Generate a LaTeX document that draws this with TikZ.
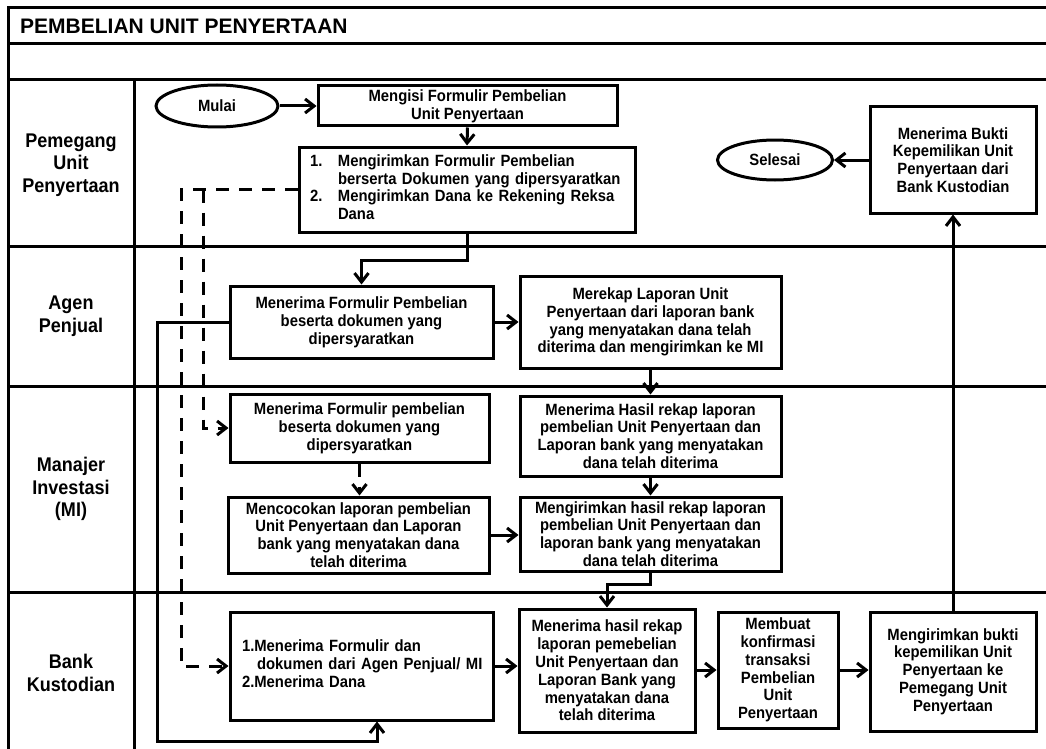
\documentclass[tikz,border=0pt]{standalone}
\usepackage{fontspec}
\setmainfont{Liberation Sans}
\newfontfamily\cond[FakeStretch=0.91]{Liberation Sans}
\usetikzlibrary{arrows.meta,shapes.geometric}
\begin{document}
\begin{tikzpicture}[x=1pt,y=-1pt,
  lane/.style={line width=3pt},
  box/.style={draw,line width=3pt,rectangle,inner sep=0pt,align=center,
    font=\cond\bfseries\fontsize{16.3}{17.8}\selectfont},
  oval/.style={draw,line width=3pt,ellipse,inner sep=0pt,
    font=\cond\bfseries\fontsize{16.3}{17.8}\selectfont},
  lbl/.style={align=center,inner sep=0pt,font=\cond\bfseries\fontsize{19.8}{22.5}\selectfont},
  arr/.style={line width=3pt,-{Straight Barb[length=9pt,width=14pt]}},
  darr/.style={arr,dash pattern=on 13pt off 10pt},
]
\useasboundingbox (0,0) rectangle (1046,749);
\begin{scope}
\clip (0,0) rectangle (1046,749);
% frame and lanes
\draw[lane] (1060,8) -- (8,8) -- (8,760);
\foreach \yy in {44,80,246,386,592}{\draw[lane] (8,\yy) -- (1060,\yy);}
\draw[lane] (134,80) -- (134,760);
\node[anchor=west,inner sep=0pt,font=\bfseries\fontsize{21}{24}\selectfont] (title) at (20,26) {PEMBELIAN UNIT PENYERTAAN};
% lane labels
\node[lbl] (l1) at (71,165) {Pemegang\\Unit\\Penyertaan};
\node[lbl] (l2) at (71,316) {Agen\\Penjual};
\node[lbl] (l3) at (71,489) {Manajer\\Investasi\\(MI)};
\node[lbl] (l4) at (71,673) {Bank\\Kustodian};
% nodes
\node[oval,minimum width=122pt,minimum height=42pt] (mulai) at (217,106) {Mulai};
\node[box,minimum width=299pt,minimum height=40pt] (b1) at (467.5,106) {Mengisi Formulir Pembelian\\Unit Penyertaan};
\node[box,minimum width=336pt,minimum height=85pt,text width=314pt,align=left] (b2) at (467,189.5)
  {\begin{tabular}{@{}l@{}l@{}}\makebox[28pt][l]{1.} & Mengirimkan Formulir Pembelian\\ & berserta Dokumen yang dipersyaratkan\\ \makebox[28pt][l]{2.} & Mengirimkan Dana ke Rekening Reksa\\ & Dana\end{tabular}};
\node[oval,minimum width=115pt,minimum height=40pt] (selesai) at (775,160) {Selesai};
\node[box,minimum width=166pt,minimum height=106pt] (bukti) at (953,160) {Menerima Bukti\\Kepemilikan Unit\\Penyertaan dari\\Bank Kustodian};
\node[box,minimum width=263pt,minimum height=72pt] (a1) at (361.5,322) {Menerima Formulir Pembelian\\beserta dokumen yang\\dipersyaratkan};
\node[box,minimum width=261pt,minimum height=92pt] (a2) at (650.5,322) {Merekap Laporan Unit\\Penyertaan dari laporan bank\\yang menyatakan dana telah\\diterima dan mengirimkan ke MI};
\node[box,minimum width=259pt,minimum height=68pt] (m1) at (359.5,428) {Menerima Formulir pembelian\\beserta dokumen yang\\dipersyaratkan};
\node[box,minimum width=261pt,minimum height=76pt] (m2) at (358.5,535) {Mencocokan laporan pembelian\\Unit Penyertaan dan Laporan\\bank yang menyatakan dana\\telah diterima};
\node[box,minimum width=261pt,minimum height=80pt] (m3) at (650.5,436) {Menerima Hasil rekap laporan\\pembelian Unit Penyertaan dan\\Laporan bank yang menyatakan\\dana telah diterima};
\node[box,minimum width=261pt,minimum height=74pt] (m4) at (650.5,534) {Mengirimkan hasil rekap laporan\\pembelian Unit Penyertaan dan\\laporan bank yang menyatakan\\dana telah diterima};
\node[box,minimum width=263pt,minimum height=108pt,text width=239pt,align=left] (k1) at (361.5,666)
  {\begin{tabular}{@{}l@{}l@{}}1. & Menerima Formulir dan\\ & \,dokumen dari Agen Penjual/ MI\\ 2. & Menerima Dana\end{tabular}};
\node[box,minimum width=176pt,minimum height=123pt] (k2) at (607,670.5) {Menerima hasil rekap\\laporan pemebelian\\Unit Penyertaan dan\\Laporan Bank yang\\menyatakan dana\\telah diterima};
\node[box,minimum width=120pt,minimum height=116pt] (k3) at (778,670) {Membuat\\konfirmasi\\transaksi\\Pembelian\\Unit\\Penyertaan};
\node[box,minimum width=166pt,minimum height=119pt] (k4) at (953,671.5) {Mengirimkan bukti\\kepemilikan Unit\\Penyertaan ke\\Pemegang Unit\\Penyertaan};
% helper coordinates
\coordinate (dL) at (181,0);
\coordinate (dR) at (203,0);
\coordinate (loopA) at (157,741);
% connectors
\draw[arr] (mulai.east) -- (b1.west |- mulai.east);
\draw[arr] (b1.south) -- (b2.north);
\draw[arr] (b2.south) -- ++(0,27) -| (a1.north);
\draw[arr] (a1.east) -- (a2.west);
\draw[arr] (a2.south) -- (m3.north);
\draw[darr] (m1.south) -- (m1.south |- m2.north);
\draw[arr] (m2.east) -- (m2.east -| m4.west);
\draw[arr] (m3.south) -- (m4.north);
\draw[arr] (m4.south) -- ++(0,12) -| (k2.north);
\draw[arr] (k1.east) -- (k1.east -| k2.west);
\draw[arr] (k2.east |- k3.west) -- (k3.west);
\draw[arr] (k3.east) -- (k3.east -| k4.west);
\draw[arr] (k4.north) -- (bukti.south);
\draw[arr] (bukti.west) -- (selesai.east);
\draw[arr] (a1.west) -| (loopA) -| ([xshift=15.5pt]k1.south);
\draw[darr] (b2.west) -| (dL |- k1.west) -- (k1.west);
\draw[darr] (dR |- b2.west) |- (m1.west);
\end{scope}
\end{tikzpicture}
\end{document}
